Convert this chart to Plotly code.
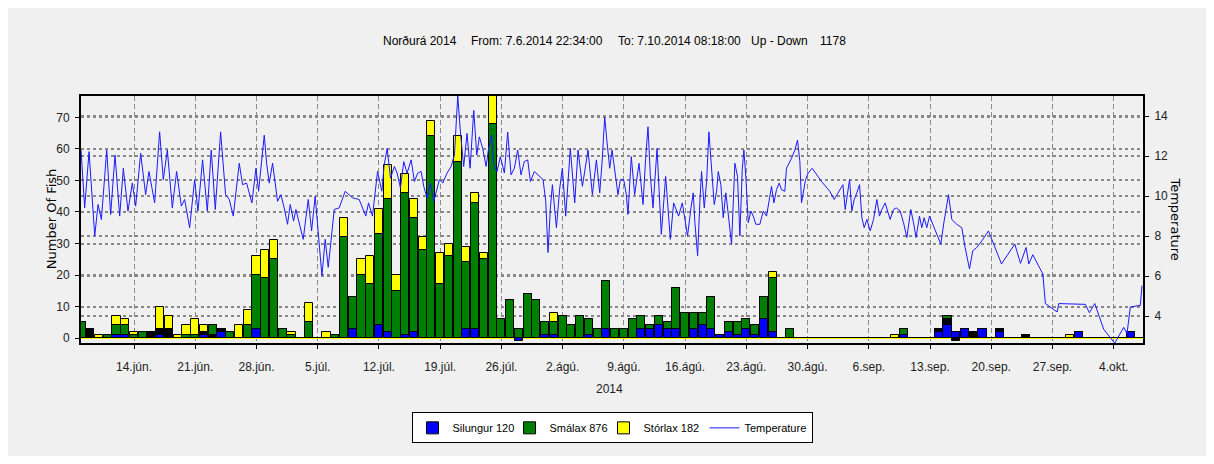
import pandas as pd
import plotly.graph_objects as go

# ---------------- data ----------------
# daily fish counts (Up - Down), 8 Jun 2014 .. 7 Oct 2014
days = pd.date_range("2014-06-08", "2014-10-07", freq="D")

silungur_jun = [0, 0, 0, 0, 1, 1, 0, 0, 0, 1, 0, 0, 0, 0, 1, 0, 2, 0, 0, 0, 3, 0, 0]
silungur_jul = [0, 0, 0, 0, 0, 0, 0, 0, 3, 0, 0, 4, 2, 0, 1, 2, 0, 0, 0, 0, 0, 3, 3, 0, 0, 0, 0, -1, 0, 0, 1]
silungur_aug = [1, 0, 0, 0, 1, 0, 3, 0, 0, 0, 3, 3, 4, 3, 3, 0, 3, 4, 3, 1, 2, 1, 3, 1, 6, 2, 0, 0, 0, 0, 0]
silungur_sep = [0, 0, 0, 0, 0, 0, 0, 0, 0, 1, 0, 0, 0, 2, 4, 2, 3, 0, 3, 0, 2, 0, 0, 0, 0, 0, 0, 0, 0, 2]
silungur_okt = [0, 0, 0, 0, 0, 2, 0]

smalax_jun = [5, 0, 0, 1, 3, 3, 1, 2, 0, 0, 0, 0, 1, 1, 0, 3, 0, 2, 0, 4, 17, 19, 25]
smalax_jul = [3, 1, 0, 5, 0, 0, 1, 32, 10, 20, 17, 29, 42, 15, 45, 36, 28, 64, 17, 26, 56, 21, 40, 25, 68, 6, 12, 3, 14, 12, 4]
smalax_aug = [4, 7, 4, 7, 5, 3, 15, 3, 3, 6, 4, 1, 3, 2, 13, 8, 5, 4, 10, 0, 3, 4, 3, 3, 7, 17, 0, 3, 0, 0, 0]
smalax_sep = [0, 0, 0, 0, 0, 0, 0, 0, 0, 2, 0, 0, 0, 0, 1, 0, 0, 0, 0, 0, 0, 0, 0, 0, 0, 0, 0, 0, 0, 0]
smalax_okt = [0, 0, 0, 0, 0, 0, 0]

storlax_jun = [0, 0, 1, 0, 3, 2, 1, 0, 0, 7, 4, 1, 3, 5, 2, 0, 0, 0, 4, 5, 6, 9, 6]
storlax_jul = [0, 1, 0, 6, 0, 2, 0, 6, 0, 5, 9, 8, 11, 5, 6, 6, 4, 5, 10, 4, 8, 5, 3, 2, 9, 0, 0, 0, 0, 0, 0]
storlax_aug = [3, 0, 0, 0, 0, 0, 0, 0, 0, 0, 0, 0, 0, 0, 0, 0, 0, 0, 0, 0, 0, 0, 0, 0, 0, 2, 0, 0, 0, 0, 0]
storlax_sep = [0, 0, 0, 0, 0, 0, 0, 0, 1, 0, 0, 0, 0, 0, 0, 0, 0, 0, 0, 0, 0, 0, 0, 0, 0, 0, 0, 0, 1, 0]
storlax_okt = [0, 0, 0, 0, 0, 0, 0]

# dark (unlabelled) parts of the bars
dark_jun = [0, 3, 0, 0, 0, 0, 0, 0, 2, 2, 3, 0, 0, 0, 1, 1, 1, 0, 0, 0, 0, 0, 0]
dark_jul = [0] * 31
dark_aug = [0] * 31
dark_sep = [0, 0, 0, 0, 0, 0, 0, 0, 0, 0, 0, 0, 0, 1, 2, -1, 0, 2, 0, 0, 1, 0, 0, 1, 0, 0, 0, 0, 0, 0]
dark_okt = [0, 0, 0, 0, 0, 0, 0]

silungur = silungur_jun + silungur_jul + silungur_aug + silungur_sep + silungur_okt
smalax = smalax_jun + smalax_jul + smalax_aug + smalax_sep + smalax_okt
storlax = storlax_jun + storlax_jul + storlax_aug + storlax_sep + storlax_okt
dark = dark_jun + dark_jul + dark_aug + dark_sep + dark_okt

legend_counts = {"Silungur": 120, "Smálax": 876, "Stórlax": 182}

# temperature: time in days after 2014-06-07 00:00, value in deg C
temp_day = [
    0.94, 1.36, 1.86, 2.51, 2.89, 3.27, 3.88, 4.33, 4.83, 5.36, 5.78, 6.31, 6.81, 7.19, 7.76, 8.33,
    8.71, 9.36, 9.93, 10.35, 10.81, 11.38, 11.87, 12.41, 12.79, 13.36, 13.93, 14.31, 14.84, 15.38,
    15.83, 16.29, 16.90, 17.47,
    17.89, 18.35, 19.03, 19.41, 19.87, 20.48, 20.94, 21.24, 21.89, 22.16, 22.46, 22.84, 23.41, 23.79,
    24.17, 24.55, 24.86, 25.24, 25.51, 25.89, 26.34, 26.92, 27.30, 27.71, 28.10, 28.48, 28.86, 29.20,
    29.50, 29.89, 30.46, 31.14, 31.98, 32.74, 33.50, 33.81, 34.26, 34.84, 35.33, 35.60,
    35.94, 36.32, 36.77, 37.08, 37.46, 37.84, 38.22, 38.68, 39.06, 39.44, 39.82, 40.12, 40.51, 40.89,
    41.27, 41.65, 41.91, 42.30, 42.79, 43.25, 43.63, 44.01, 44.31, 44.69, 45.07, 45.42, 45.84, 46.18,
    46.48, 46.86, 47.25, 47.51, 47.89, 48.12, 48.50, 48.88, 49.34, 49.72, 50.10, 50.48, 50.86, 51.24,
    51.62, 52.01, 52.31, 52.77,
    53.76, 54.07, 54.33, 54.60, 54.83, 55.29, 55.67, 55.97, 56.35, 56.88, 57.38, 57.76, 58.26, 58.90,
    59.40, 59.86, 60.24, 60.50, 60.81, 61.07, 61.38, 61.65, 61.95, 62.33, 62.60, 62.98, 63.28, 63.47,
    63.85, 64.23, 64.73, 65.19, 65.49, 65.76, 66.02, 66.33, 66.79, 67.28, 67.78, 68.31, 68.69, 69.26,
    69.68,
    69.98, 70.28, 70.67, 70.93, 71.12, 71.43, 71.69, 71.88, 72.19, 72.46, 72.72, 73.03, 73.33, 73.60,
    73.79, 74.09, 74.36, 74.66, 74.93, 75.31, 75.69, 75.99, 76.26, 76.53, 76.72, 76.95, 77.22, 77.52,
    77.79, 78.09, 78.55, 78.93, 79.31, 79.58, 79.88, 80.15, 80.45, 80.76, 81.02, 81.40, 81.59, 82.17,
    82.55, 82.85, 83.12, 83.31, 83.50, 83.77, 84.07, 84.53, 85.59, 86.54, 87.04,
    87.35, 87.65, 88.04, 88.30, 88.57, 88.80, 89.06, 89.33, 89.63, 89.94, 90.21, 90.47, 90.78, 91.16,
    91.54, 91.92, 92.22, 92.49, 92.87, 93.14, 93.44, 93.82, 94.13, 94.59, 94.97, 95.35, 95.80, 96.11,
    96.41, 96.79, 97.06, 97.33, 97.63, 97.94, 98.58, 99.23, 99.61, 100.11, 100.49, 101.06, 101.63,
    102.01, 102.51, 102.89, 103.34, 103.92, 104.68,
    106.17, 107.69, 108.34, 108.98, 109.29, 109.75, 110.89, 111.19, 112.53, 112.72, 115.76, 116.22,
    116.83, 117.86, 119.11, 120.14, 120.52, 120.90, 122.04, 122.23,
]
temp_val = [
    12.30, 9.41, 12.22, 8.01, 9.58, 8.83, 12.30, 9.08, 12.05, 9.00, 11.39, 9.25, 10.65, 9.50, 12.14, 10.07,
    11.23, 9.66, 13.21, 10.82, 12.30, 9.41, 11.23, 9.50, 9.83, 8.42, 10.82, 9.25, 11.81, 9.25,
    12.30, 9.33, 13.21, 10.07,
    9.83, 9.00, 11.64, 10.57, 10.65, 9.66, 11.39, 10.24, 13.04, 11.64, 10.65, 11.64, 9.74, 10.07,
    9.41, 8.59, 9.58, 8.75, 9.33, 8.59, 7.84, 9.83, 8.26, 9.99, 8.09, 6.03, 7.84, 6.44,
    7.68, 9.33, 9.41, 10.24, 9.91, 9.83, 9.00, 9.66, 9.00, 11.23, 10.24, 11.56,
    12.38, 10.90, 11.48, 11.15, 10.40, 11.72, 11.15, 11.81, 10.73, 11.15, 11.23, 10.49, 9.91, 10.65,
    9.74, 10.40, 10.82, 10.65, 11.15, 11.48, 12.05, 15.02, 13.21, 11.48, 13.13, 11.39, 14.28, 12.05,
    12.96, 12.38, 11.48, 12.30, 13.04, 11.56, 11.23, 11.97, 11.15, 13.20, 11.06, 11.39, 12.30, 11.06,
    11.72, 11.81, 10.73, 11.23,
    10.82, 9.74, 7.18, 9.41, 10.57, 8.42, 10.40, 11.39, 9.00, 12.38, 9.66, 12.30, 10.49, 12.30,
    10.07, 11.81, 10.16, 11.64, 13.95, 12.71, 11.39, 12.30, 11.39, 10.07, 10.82, 10.82, 10.07, 9.08,
    11.97, 10.07, 11.64, 9.58, 11.89, 13.46, 11.06, 9.41, 12.38, 8.09, 10.98, 7.84, 9.66, 9.00,
    9.66,
    8.83, 8.01, 9.41, 10.16, 8.67, 7.02, 9.74, 11.23, 9.41, 10.73, 13.21, 11.56, 9.58, 10.24,
    11.23, 10.57, 8.92, 10.16, 9.00, 7.60, 11.64, 10.98, 8.01, 11.31, 12.30, 10.90, 8.67, 9.25,
    9.00, 8.59, 8.59, 9.25, 9.00, 9.83, 10.49, 9.66, 10.32, 10.65, 10.32, 10.24, 11.39, 11.89,
    12.30, 12.80, 11.72, 9.66, 10.24, 10.82, 11.15, 11.39, 10.73, 10.24, 9.83,
    10.07, 10.24, 10.57, 9.33, 10.24, 10.82, 9.25, 9.83, 10.16, 10.57, 8.92, 8.42, 8.83, 8.26,
    8.83, 9.83, 9.00, 9.33, 9.66, 9.25, 8.83, 9.33, 9.41, 9.25, 8.67, 7.93, 9.33, 8.67,
    7.93, 9.00, 8.42, 8.92, 8.42, 9.00, 8.26, 7.60, 8.75, 10.07, 8.83, 8.59, 8.42,
    7.43, 6.36, 7.27, 7.43, 7.76, 8.26,
    6.61, 7.60, 6.64, 7.43, 6.61, 7.07, 6.11, 4.63, 4.21, 4.63, 4.59, 4.17,
    4.63, 3.34, 2.65, 3.44, 3.14, 4.46, 4.54, 5.53,
]

tick_dates = pd.date_range("2014-06-14", "2014-10-04", freq="7D")
tick_labels = ["14.jún.", "21.jún.", "28.jún.", "5.júl.", "12.júl.", "19.júl.", "26.júl.",
               "2.ágú.", "9.ágú.", "16.ágú.", "23.ágú.", "30.ágú.", "6.sep.", "13.sep.",
               "20.sep.", "27.sep.", "4.okt."]

fish_ticks = [0, 10, 20, 30, 40, 50, 60, 70]
temp_ticks = [4, 6, 8, 10, 12, 14]

t_from = pd.Timestamp("2014-06-07 22:34:00")
t_to = pd.Timestamp("2014-10-07 08:18:00")

# ---------------- figure ----------------
FONT = "Liberation Sans, Arial, sans-serif"
temp_time = pd.Timestamp("2014-06-07") + pd.to_timedelta(temp_day, unit="D")
bar_w = 0.93 * 86400000

fig = go.Figure()
line_style = dict(color="black", width=1)
fig.add_trace(go.Bar(x=days, y=silungur, width=bar_w,
                     name=f"Silungur {legend_counts['Silungur']}", legendwidth=52,
                     marker=dict(color="#0000FF", line=line_style)))
fig.add_trace(go.Bar(x=days, y=dark, width=bar_w, name="dark", showlegend=False,
                     marker=dict(color="#000000", line=line_style), hoverinfo="skip"))
fig.add_trace(go.Bar(x=days, y=smalax, width=bar_w,
                     name=f"Smálax {legend_counts['Smálax']}", legendwidth=49,
                     marker=dict(color="#008000", line=line_style)))
fig.add_trace(go.Bar(x=days, y=storlax, width=bar_w,
                     name=f"Stórlax {legend_counts['Stórlax']}", legendwidth=56,
                     marker=dict(color="#FFFF00", line=line_style)))
fig.add_trace(go.Scatter(x=temp_time, y=temp_val, mode="lines", name="Temperature",
                         legendwidth=62,
                         yaxis="y2", line=dict(color="#1a1aff", width=1)))

# page offset of the figure (body margin) and figure box
OFF = 8
W, H = 1198, 448
L, T = 81 - OFF, 95.7 - OFF
R = W - (1143.3 - OFF)
B = H - (345 - OFF)
pw, ph = W - L - R, H - T - B


def px_x(px):
    return (px - OFF - L) / pw


def px_y(py):
    return (H - B - (py - OFF)) / ph


annots = []
for txt, xpx in [("Norðurá 2014", 381), ("From: 7.6.2014 22:34:00", 469),
                 ("To: 7.10.2014 08:18:00", 616), ("Up - Down", 749), ("1178", 818)]:
    annots.append(dict(text=txt, x=px_x(xpx), y=px_y(40), xref="paper", yref="paper",
                       xanchor="left", yanchor="middle", showarrow=False,
                       font=dict(size=12, color="#000000", family=FONT)))
annots.append(dict(text="Number Of Fish", x=px_x(51), y=px_y(220), xref="paper", yref="paper",
                   textangle=-90, showarrow=False, xanchor="center", yanchor="middle",
                   font=dict(size=13, color="#000000", family="DejaVu Sans")))
annots.append(dict(text="Temperature", x=px_x(1176), y=px_y(220), xref="paper", yref="paper",
                   textangle=90, showarrow=False, xanchor="center", yanchor="middle",
                   font=dict(size=13, color="#000000", family="DejaVu Sans")))
annots.append(dict(text="2014", x=px_x(610), y=px_y(391), xref="paper", yref="paper",
                   showarrow=False, xanchor="center", yanchor="middle",
                   font=dict(size=12, color="#222222", family=FONT)))

fig.update_layout(
    width=W, height=H,
    margin=dict(l=L, r=R, t=T, b=B, pad=0),
    paper_bgcolor="#F0F0F0", plot_bgcolor="#F0F0F0",
    barmode="relative", bargap=0,
    font=dict(family=FONT, size=12, color="#222222"),
    showlegend=True,
    legend=dict(orientation="h", x=0.5, xanchor="center", y=px_y(415), yanchor="top",
                bgcolor="white", bordercolor="black", borderwidth=1,
                traceorder="normal", font=dict(size=11, color="#000000"),
                itemwidth=30, tracegroupgap=0),
    xaxis=dict(type="date", range=[t_from, t_to], tickvals=tick_dates, ticktext=tick_labels,
               showgrid=True, gridcolor="#888888", gridwidth=1, griddash="5px,3px",
               showline=True, linecolor="black", linewidth=2, mirror=True,
               ticks="outside", ticklen=4, tickcolor="black", ticklabelstandoff=8,
               tickfont=dict(size=12, color="#222222"), zeroline=False),
    yaxis=dict(range=[-1.57, 76.8], tickvals=fish_ticks,
               showgrid=True, gridcolor="#888888", gridwidth=2, griddash="dot",
               showline=True, linecolor="black", linewidth=2, mirror=False,
               ticks="outside", ticklen=4, tickcolor="black", ticklabelstandoff=3,
               zeroline=True, zerolinecolor="#FFFF00", zerolinewidth=2,
               tickfont=dict(size=12, color="#222222")),
    yaxis2=dict(range=[2.66, 15.0], tickvals=temp_ticks, overlaying="y", side="right",
                showgrid=True, gridcolor="#888888", gridwidth=2, griddash="dot",
                showline=True, linecolor="black", linewidth=2,
                ticks="outside", ticklen=4, tickcolor="black", zeroline=False,
                ticklabelstandoff=3,
                tickfont=dict(size=12, color="#222222")),
    annotations=annots,
)

fig.write_html("out.html")
